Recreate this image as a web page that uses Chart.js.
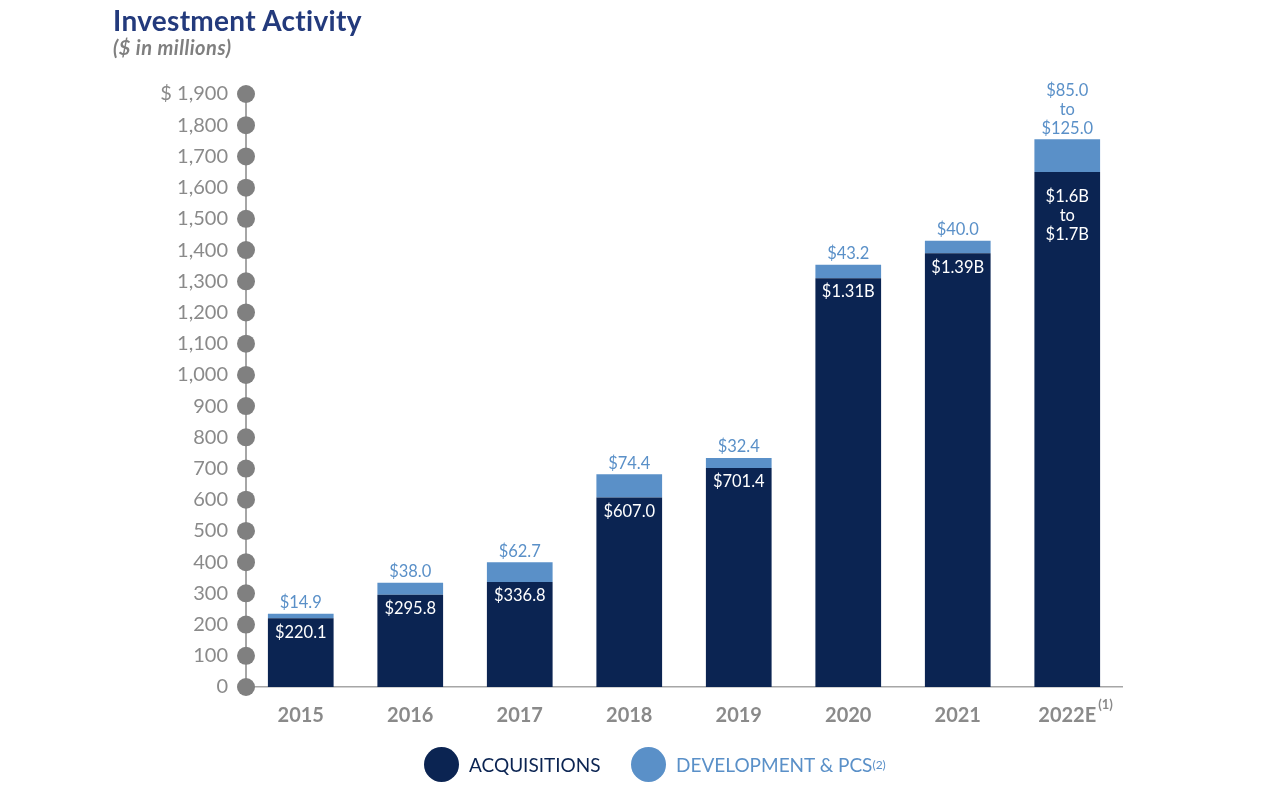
<!DOCTYPE html>
<html>
<head>
  <title>Investment Activity</title>
  <script src="https://cdn.jsdelivr.net/npm/chart.js"></script>
  <style>
    body { margin: 0; background: #fff; font-family: Lato, sans-serif; }
    #wrap { position: relative; width: 1280px; height: 792px; }
    #title { position: absolute; left: 113px; top: 3px; font-size: 28px; font-weight: bold; color: #233a7c; letter-spacing: 0.3px; }
    #sub { position: absolute; left: 113px; top: 35px; font-size: 20px; font-weight: bold; font-style: italic; color: #7f7f7f; letter-spacing: 0.5px; }
    .leg { position: absolute; top: 747px; display: flex; align-items: center; font-size: 19px; }
    .dot { width: 35px; height: 35px; border-radius: 50%; margin-right: 10px; }
    sup { font-size: 12px; }
  </style>
</head>
<body>
<div id="wrap">
  <canvas id="chart" width="1280" height="792"></canvas>
  <div id="title">Investment Activity</div>
  <div id="sub">($ in millions)</div>
  <div class="leg" style="left:424px;color:#0b2452"><div class="dot" style="background:#0b2452"></div>ACQUISITIONS</div>
  <div class="leg" style="left:631px;color:#5a90c8"><div class="dot" style="background:#5a90c8"></div>DEVELOPMENT &amp; PCS<sup>(2)</sup></div>
</div>
<script>
  const years = ['2015', '2016', '2017', '2018', '2019', '2020', '2021', '2022E'];
  const acquisitions = [220.1, 295.8, 336.8, 607.0, 701.4, 1310, 1390, 1650];
  const development = [14.9, 38.0, 62.7, 74.4, 32.4, 43.2, 40.0, 105];
  const acqLabels = [['$220.1'], ['$295.8'], ['$336.8'], ['$607.0'], ['$701.4'], ['$1.31B'], ['$1.39B'], ['$1.6B', 'to', '$1.7B']];
  const devLabels = [['$14.9'], ['$38.0'], ['$62.7'], ['$74.4'], ['$32.4'], ['$43.2'], ['$40.0'], ['$85.0', 'to', '$125.0']];

  const NAVY = '#0b2452', BLUE = '#5a90c8', GRAY = '#8a8a8a';

  // labels on and above the bars, dots on the y axis, footnote on 2022E
  const extras = {
    id: 'extras',
    afterDraw(chart) {
      const c = chart.ctx, y = chart.scales.y, x = chart.scales.x;
      c.save();
      c.fillStyle = '#808080';
      y.ticks.forEach(t => {
        c.beginPath();
        c.arc(chart.chartArea.left, y.getPixelForValue(t.value), 9, 0, Math.PI * 2);
        c.fill();
      });
      c.font = '16.5px Lato';
      c.textAlign = 'center';
      c.textBaseline = 'middle';
      const lh = 19;
      chart.getDatasetMeta(0).data.forEach((bar, i) => {
        const lines = acqLabels[i];
        const y0 = bar.y + (lines.length > 1 ? 25 : 14);
        c.fillStyle = '#fff';
        lines.forEach((s, k) => c.fillText(s, bar.x, y0 + k * lh));
      });
      chart.getDatasetMeta(1).data.forEach((bar, i) => {
        const lines = devLabels[i];
        const y0 = bar.y - 11 - (lines.length - 1) * lh;
        c.fillStyle = BLUE;
        lines.forEach((s, k) => c.fillText(s, bar.x, y0 + k * lh));
      });
      const last = years.length - 1;
      c.fillStyle = GRAY;
      c.font = 'bold 13px Lato';
      c.textAlign = 'left';
      c.fillText('(1)', x.getPixelForValue(last) + 31, 705);
      c.restore();
    }
  };

  new Chart(document.getElementById('chart'), {
    type: 'bar',
    data: {
      labels: years,
      datasets: [
        { label: 'Acquisitions', data: acquisitions, backgroundColor: NAVY },
        { label: 'Development & PCS', data: development, backgroundColor: BLUE }
      ]
    },
    plugins: [extras],
    options: {
      responsive: false,
      animation: false,
      layout: { padding: { top: 94, right: 158, left: 0, bottom: 0 } },
      plugins: { legend: { display: false }, tooltip: { enabled: false } },
      datasets: { bar: { barPercentage: 0.6, categoryPercentage: 1 } },
      scales: {
        x: {
          stacked: true,
          grid: { display: false, drawTicks: false },
          border: { color: '#a6a6a6', width: 1.5 },
          ticks: { color: GRAY, font: { family: 'Lato', size: 20, weight: 'bold' }, padding: 17 },
          afterFit: s => { s.height = 105; }
        },
        y: {
          stacked: true,
          min: 0, max: 1900,
          grid: { display: false, drawTicks: false },
          border: { color: '#a6a6a6', width: 2 },
          ticks: {
            stepSize: 100,
            color: GRAY,
            padding: 18,
            font: { family: 'Lato', size: 20 },
            callback: v => (v === 1900 ? '$ ' : '') + v.toLocaleString('en-US')
          },
          afterFit: s => { s.width = 246; }
        }
      }
    }
  });
</script>
</body>
</html>
